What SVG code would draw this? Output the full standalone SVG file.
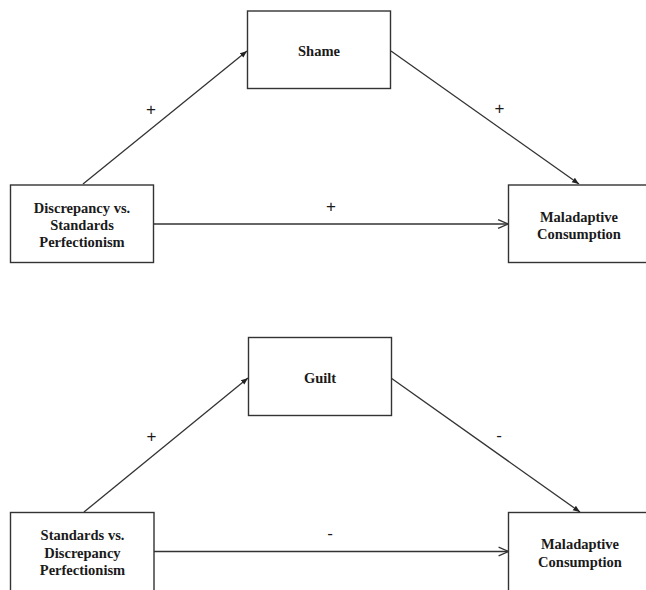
<svg xmlns="http://www.w3.org/2000/svg" width="646" height="590" viewBox="0 0 646 590">
<style>
.box{fill:#fff;stroke:#333;stroke-width:1.4}
.lbl{font-family:"Liberation Serif","Times New Roman",serif;font-weight:bold;font-size:14.5px;fill:#1a1a1a;text-anchor:middle}
.sign{font-family:"Liberation Sans",Arial,sans-serif;font-size:17px;fill:#1a1a1a;text-anchor:middle}
.edge{stroke:#333;stroke-width:1.3;fill:none}
</style>
<defs>
<marker id="solid" viewBox="0 0 10 10" refX="10" refY="5" markerWidth="7" markerHeight="7" markerUnits="userSpaceOnUse" orient="auto">
<path d="M0,1 L10,5 L0,9 z" fill="#222"/>
</marker>
<marker id="open" viewBox="0 0 10 10" refX="10" refY="5" markerWidth="11" markerHeight="11" markerUnits="userSpaceOnUse" orient="auto">
<path d="M1,1 L10,5 L1,9" fill="none" stroke="#333" stroke-width="1.2"/>
</marker>
</defs>
<rect width="646" height="590" fill="#fff"/>
<g id="connectors">
<line class="edge" x1="83" y1="184" x2="247" y2="51" marker-end="url(#solid)"/>
<line class="edge" x1="391" y1="51" x2="579" y2="184" marker-end="url(#solid)"/>
<line class="edge" x1="153.5" y1="224" x2="508" y2="224" marker-end="url(#open)"/>
<line class="edge" x1="84" y1="512" x2="248" y2="378" marker-end="url(#solid)"/>
<line class="edge" x1="391" y1="378" x2="580" y2="512" marker-end="url(#solid)"/>
<line class="edge" x1="154" y1="551.5" x2="508.5" y2="551.5" marker-end="url(#open)"/>
<text class="sign" x="151" y="115">+</text>
<text class="sign" x="499.5" y="114">+</text>
<text class="sign" x="331" y="212">+</text>
<text class="sign" x="151.5" y="442">+</text>
<text class="sign" x="499" y="441">-</text>
<text class="sign" x="330" y="539">-</text>
</g>
<g id="shame">
<rect class="box" x="247.5" y="11" width="143" height="77.5"/>
<text class="lbl" x="319" y="56">Shame</text>
</g>
<g id="discrepancy">
<rect class="box" x="10.5" y="185" width="143" height="77.5"/>
<text class="lbl" x="82" y="213">Discrepancy vs.</text>
<text class="lbl" x="82" y="230">Standards</text>
<text class="lbl" x="82" y="247">Perfectionism</text>
</g>
<g id="maladaptive1">
<rect class="box" x="508.5" y="185" width="143" height="77.5"/>
<text class="lbl" x="579" y="221.5">Maladaptive</text>
<text class="lbl" x="579" y="239">Consumption</text>
</g>
<g id="guilt">
<rect class="box" x="248.5" y="337.5" width="143" height="78"/>
<text class="lbl" x="320" y="383">Guilt</text>
</g>
<g id="standards">
<rect class="box" x="10.5" y="512.5" width="143.5" height="80"/>
<text class="lbl" x="82.5" y="540">Standards vs.</text>
<text class="lbl" x="82.5" y="557.5">Discrepancy</text>
<text class="lbl" x="82.5" y="575">Perfectionism</text>
</g>
<g id="maladaptive2">
<rect class="box" x="508.5" y="512.5" width="143" height="80"/>
<text class="lbl" x="580" y="549">Maladaptive</text>
<text class="lbl" x="580" y="566.5">Consumption</text>
</g>
</svg>
